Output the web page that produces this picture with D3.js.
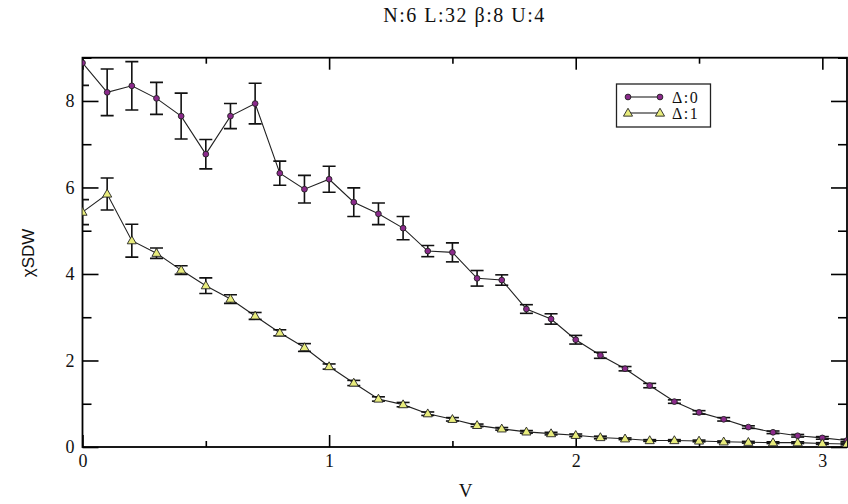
<!DOCTYPE html>
<html>
<head>
<meta charset="utf-8">
<script src="https://cdn.jsdelivr.net/npm/d3@7"></script>
<style>
  html, body { margin: 0; padding: 0; background: #fff; }
  svg { display: block; }
</style>
</head>
<body>
<svg id="chart" width="848" height="504"></svg>
<script>
// Interaction strength V sampled every 0.1
const vValues = [0.0, 0.1, 0.2, 0.3, 0.4, 0.5, 0.6, 0.7, 0.8, 0.9,
                 1.0, 1.1, 1.2, 1.3, 1.4, 1.5, 1.6, 1.7, 1.8, 1.9,
                 2.0, 2.1, 2.2, 2.3, 2.4, 2.5, 2.6, 2.7, 2.8, 2.9,
                 3.0, 3.1];

// chi_SDW for Delta = 0
const chiDelta0 = [8.88, 8.20, 8.35, 8.06, 7.65, 6.77, 7.65, 7.94, 6.33, 5.96,
                   6.19, 5.66, 5.39, 5.06, 4.53, 4.50, 3.90, 3.86, 3.19, 2.96,
                   2.48, 2.12, 1.81, 1.42, 1.05, 0.80, 0.64, 0.46, 0.34, 0.26,
                   0.21, 0.15];
const errDelta0 = [0.52, 0.54, 0.56, 0.37, 0.53, 0.34, 0.29, 0.47, 0.28, 0.32,
                   0.30, 0.33, 0.25, 0.27, 0.13, 0.22, 0.18, 0.12, 0.10, 0.12,
                   0.10, 0.07, 0.05, 0.05, 0.04, 0.04, 0.04, 0.03, 0.03, 0.03,
                   0.03, 0.03];

// chi_SDW for Delta = 1
const chiDelta1 = [5.43, 5.85, 4.77, 4.48, 4.09, 3.73, 3.42, 3.03, 2.64, 2.30,
                   1.86, 1.48, 1.11, 0.98, 0.77, 0.64, 0.50, 0.42, 0.35, 0.31,
                   0.27, 0.22, 0.19, 0.15, 0.15, 0.14, 0.12, 0.11, 0.10, 0.10,
                   0.08, 0.07];
const errDelta1 = [0.29, 0.37, 0.38, 0.12, 0.10, 0.18, 0.10, 0.08, 0.07, 0.09,
                   0.06, 0.06, 0.05, 0.05, 0.04, 0.04, 0.03, 0.03, 0.03, 0.03,
                   0.03, 0.03, 0.02, 0.02, 0.02, 0.02, 0.02, 0.02, 0.02, 0.02,
                   0.02, 0.02];

const seriesNames = ["\u0394:0", "\u0394:1"];
const xTicks = [0, 1, 2, 3];
const xMinorTicks = [0.5, 1.5, 2.5];
const yTicks = [0, 2, 4, 6, 8];
const yMinorTicks = [1, 3, 5, 7, 9];
const titleText = "N:6 L:32 \u03b2:8 U:4";

const svg = d3.select("#chart");
const plotLeft = 82.5, plotRight = 847, plotTop = 57.7, plotBottom = 447;

const x = d3.scaleLinear().domain([0, 3.1]).range([plotLeft, plotRight]);
const y = d3.scaleLinear().domain([0, 9]).range([plotBottom, plotTop]);

const serif = "'Liberation Serif'";
const sans = "'Liberation Sans'";

svg.append("defs").append("clipPath").attr("id", "plotClip")
  .append("rect").attr("x", plotLeft).attr("y", plotTop)
  .attr("width", plotRight - plotLeft).attr("height", plotBottom - plotTop);

// Axes with inward ticks on all four sides
function addAxis(axis, transform) {
  const g = svg.append("g").attr("transform", transform).call(axis);
  g.attr("font-family", null).attr("font-size", null);
  g.select(".domain").remove();
  g.selectAll("line").attr("stroke", "#000").attr("stroke-width", 1.6);
  g.selectAll("text").style("font-family", serif).style("font-size", "18px").attr("fill", "#111");
  return g;
}
addAxis(d3.axisBottom(x).tickValues(xTicks).tickFormat(d3.format("d")).tickSizeInner(-12).tickSizeOuter(0).tickPadding(7), `translate(0,${plotBottom})`);
addAxis(d3.axisBottom(x).tickValues(xMinorTicks).tickFormat("").tickSizeInner(-6).tickSizeOuter(0), `translate(0,${plotBottom})`);
addAxis(d3.axisTop(x).tickValues(xTicks).tickFormat("").tickSizeInner(-12).tickSizeOuter(0), `translate(0,${plotTop})`);
addAxis(d3.axisTop(x).tickValues(xMinorTicks).tickFormat("").tickSizeInner(-6).tickSizeOuter(0), `translate(0,${plotTop})`);
addAxis(d3.axisLeft(y).tickValues(yTicks).tickFormat(d3.format("d")).tickSizeInner(-16).tickSizeOuter(0).tickPadding(8), `translate(${plotLeft},0)`);
addAxis(d3.axisLeft(y).tickValues(yMinorTicks).tickFormat("").tickSizeInner(-9).tickSizeOuter(0), `translate(${plotLeft},0)`);
addAxis(d3.axisRight(y).tickValues(yTicks).tickFormat("").tickSizeInner(-16).tickSizeOuter(0), `translate(${plotRight},0)`);
addAxis(d3.axisRight(y).tickValues(yMinorTicks).tickFormat("").tickSizeInner(-9).tickSizeOuter(0), `translate(${plotRight},0)`);

// Frame
svg.append("rect").attr("x", plotLeft).attr("y", plotTop)
  .attr("width", plotRight - plotLeft).attr("height", plotBottom - plotTop)
  .attr("fill", "none").attr("stroke", "#000").attr("stroke-width", 1.8);

const plot = svg.append("g").attr("clip-path", "url(#plotClip)");

const series = [
  { name: seriesNames[0], vals: chiDelta0, errs: errDelta0, shape: "circle", fill: "#8b2a8b" },
  { name: seriesNames[1], vals: chiDelta1, errs: errDelta1, shape: "triangle", fill: "#e8ec7c" }
];

const line = d3.line().x(d => x(d.v)).y(d => y(d.c));
const circleSym = d3.symbol().type(d3.symbolCircle).size(26);
const triSym = d3.symbol().type(d3.symbolTriangle).size(36);

series.forEach(s => {
  const pts = vValues.map((v, i) => ({ v, c: s.vals[i], e: s.errs[i] }));
  plot.append("path").datum(pts).attr("d", line)
    .attr("fill", "none").attr("stroke", "#222").attr("stroke-width", 1.1);

  const eb = plot.append("g").attr("stroke", "#111").attr("stroke-width", 1.6);
  pts.forEach(p => {
    const x0 = x(p.v), y1 = y(p.c + p.e), y2 = y(p.c - p.e);
    eb.append("line").attr("x1", x0).attr("x2", x0).attr("y1", y1).attr("y2", y2);
    eb.append("line").attr("x1", x0 - 6.5).attr("x2", x0 + 6.5).attr("y1", y1).attr("y2", y1);
    eb.append("line").attr("x1", x0 - 6.5).attr("x2", x0 + 6.5).attr("y1", y2).attr("y2", y2);
  });

  plot.append("g").selectAll("path").data(pts).join("path")
    .attr("d", s.shape === "circle" ? circleSym : triSym)
    .attr("transform", p => `translate(${x(p.v)},${y(p.c) + (s.shape === "circle" ? 0 : 0.5)})`)
    .attr("fill", s.fill).attr("stroke", "#222").attr("stroke-width", 0.9);
});

// Legend
const lg = svg.append("g");
lg.append("rect").attr("x", 616.5).attr("y", 84).attr("width", 94).attr("height", 43)
  .attr("fill", "#fff").attr("stroke", "#222").attr("stroke-width", 1.3);
series.forEach((s, i) => {
  const ly = 97 + i * 16;
  lg.append("line").attr("x1", 628).attr("x2", 660).attr("y1", ly).attr("y2", ly)
    .attr("stroke", "#222").attr("stroke-width", 1.1);
  [628, 660].forEach(lx => {
    lg.append("path").attr("d", s.shape === "circle" ? circleSym() : triSym())
      .attr("transform", `translate(${lx},${ly + (s.shape === "circle" ? 0 : 0.5)})`)
      .attr("fill", s.fill).attr("stroke", "#222").attr("stroke-width", 0.9);
  });
  lg.append("text").attr("x", 672).attr("y", ly + 6)
    .style("font-family", serif).style("font-size", "16px").style("letter-spacing", "1.5px")
    .attr("fill", "#111").text(s.name);
});

// Title and axis labels
svg.append("text").attr("x", 464.5).attr("y", 22).attr("text-anchor", "middle")
  .style("font-family", serif).style("font-size", "20px").style("letter-spacing", "1.5px")
  .attr("fill", "#111").text(titleText);
svg.append("text").attr("x", 465.5).attr("y", 497).attr("text-anchor", "middle")
  .style("font-family", serif).style("font-size", "19px").attr("fill", "#111").text("V");
svg.append("text").attr("transform", `translate(34,253) rotate(-90)`).attr("text-anchor", "middle")
  .style("font-family", sans).style("font-size", "17px").attr("fill", "#111").text("\u03c7SDW");
</script>
</body>
</html>
